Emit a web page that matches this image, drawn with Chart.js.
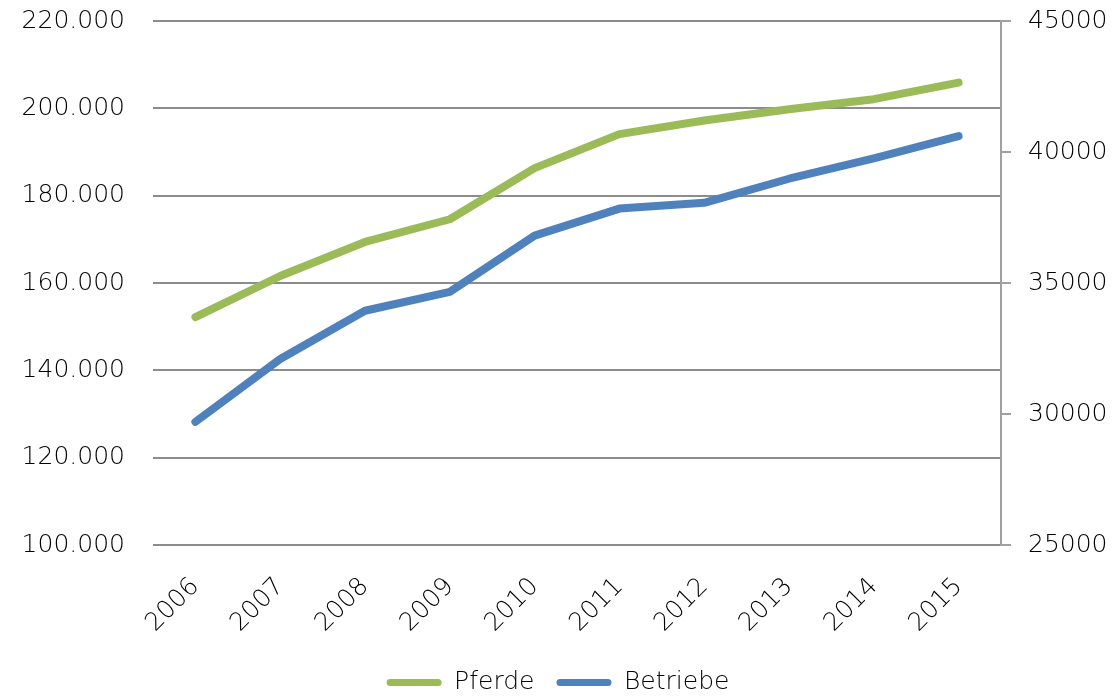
<!DOCTYPE html>
<html lang="de">
<head>
<meta charset="UTF-8">
<title>Pferde und Betriebe</title>
<script src="https://cdn.jsdelivr.net/npm/chart.js"></script>
<style>
  html, body { margin: 0; padding: 0; background: #fff; }
  #wrap { width: 1116px; height: 697px; }
</style>
</head>
<body>
<div id="wrap"><canvas id="chart"></canvas></div>
<script>
// Jahre und Werte
const years = ['2006', '2007', '2008', '2009', '2010', '2011', '2012', '2013', '2014', '2015'];
const pferde = [152200, 161600, 169400, 174600, 186300, 194100, 197200, 199800, 202100, 205900];
const betriebe = [29700, 32100, 33940, 34660, 36810, 37840, 38060, 38980, 39760, 40610];

const leftTicks = [100000, 120000, 140000, 160000, 180000, 200000, 220000];
const rightTicks = [25000, 30000, 35000, 40000, 45000];

const tickFont = { family: '"DejaVu Sans", sans-serif', size: 25, weight: 200 };
const textColor = '#000000';

// 220000 -> "220.000"
function deNumber(v) {
  return String(Math.round(v)).replace(/\B(?=(\d{3})+(?!\d))/g, '.');
}

function lineSet(label, data, axis, color) {
  return {
    label: label,
    data: data,
    yAxisID: axis,
    borderColor: color,
    backgroundColor: color,
    borderWidth: 8,
    borderCapStyle: 'round',
    borderJoinStyle: 'round',
    pointRadius: 0,
    tension: 0
  };
}

new Chart(document.getElementById('chart'), {
  type: 'line',
  data: {
    labels: years,
    datasets: [
      lineSet('Pferde', pferde, 'y', '#9bbb59'),
      lineSet('Betriebe', betriebe, 'y1', '#4f81bd')
    ]
  },
  options: {
    responsive: true,
    maintainAspectRatio: false,
    animation: false,
    layout: { padding: { left: 0, right: 0, top: 0, bottom: -8 } },
    plugins: {
      tooltip: { enabled: false },
      legend: {
        position: 'bottom',
        labels: {
          boxWidth: 55,
          boxHeight: 7,
          padding: 22,
          color: textColor,
          font: tickFont,
          useBorderRadius: true,
          borderRadius: 3.5,
          // flache Linie ohne Rahmen
          generateLabels: (chart) =>
            Chart.defaults.plugins.legend.labels.generateLabels(chart)
              .map(item => Object.assign(item, { lineWidth: 0 }))
        }
      }
    },
    scales: {
      x: {
        offset: true,
        grid: { display: false },
        border: { display: false },
        ticks: {
          color: textColor,
          font: tickFont,
          minRotation: 45,
          maxRotation: 45,
          padding: 19
        },
        afterFit: (axis) => { axis.height = 103; }
      },
      y: {
        position: 'left',
        min: 100000,
        max: 220000,
        afterBuildTicks: (axis) => { axis.ticks = leftTicks.map(v => ({ value: v })); },
        grid: { color: '#8c8c8c', lineWidth: 2, drawTicks: false },
        border: { display: false },
        ticks: {
          color: textColor,
          font: tickFont,
          padding: 28,
          callback: (v) => deNumber(v)
        },
        afterFit: (axis) => { axis.width = 153; axis.paddingTop = 21; axis.paddingBottom = 0; }
      },
      y1: {
        position: 'right',
        min: 25000,
        max: 45000,
        afterBuildTicks: (axis) => { axis.ticks = rightTicks.map(v => ({ value: v })); },
        grid: { drawOnChartArea: false, color: '#a0a0a0', lineWidth: 2, tickLength: 10 },
        border: { display: true, color: '#a0a0a0', width: 2 },
        ticks: {
          color: textColor,
          font: tickFont,
          padding: 17,
          callback: (v) => String(v)
        },
        afterFit: (axis) => { axis.width = 115; axis.paddingTop = 21; axis.paddingBottom = 0; }
      }
    }
  }
});
</script>
</body>
</html>
